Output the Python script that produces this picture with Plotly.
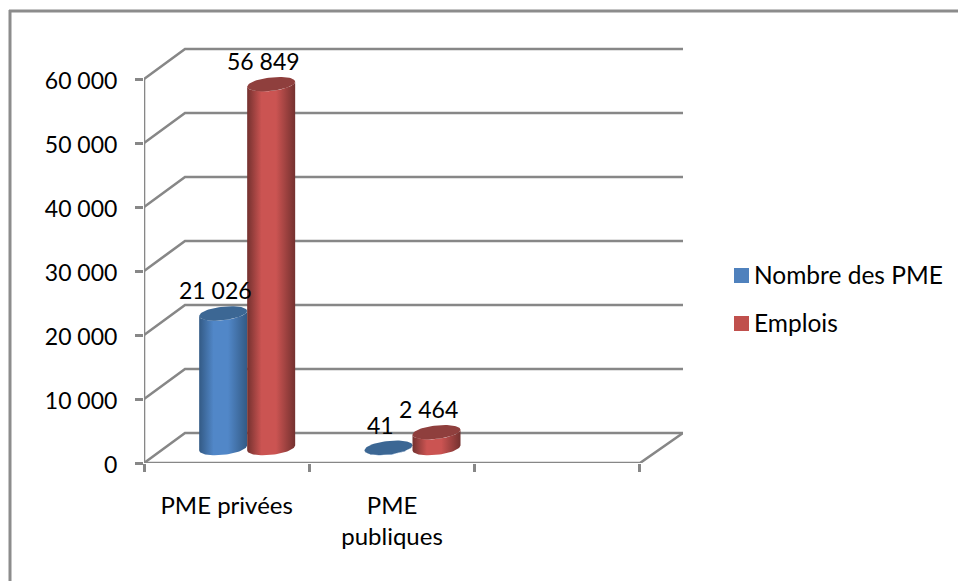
import numpy as np
import plotly.graph_objects as go

# Chart data
categories = ["PME privées", "PME<br>publiques"]
series_names = ["Nombre des PME", "Emplois"]
nombre_pme = [21026, 41]
emplois = [56849, 2464]
value_labels = [["21 026", "41"], ["56 849", "2 464"]]
y_ticks = [0, 10000, 20000, 30000, 40000, 50000, 60000]
y_tick_labels = ["0", "10 000", "20 000", "30 000", "40 000", "50 000", "60 000"]

# Pseudo-3D geometry, in axis units
PX_X = 165.33          # pixels per category
PX_Y = 0.0064          # pixels per unit of value
DEPTH_X = 41 / PX_X
DEPTH_Y = 30 / PX_Y
X_MAX = 539 / PX_X
Y_MAX = 416 / PX_Y
RADIUS_X = 24 / PX_X
RADIUS_Y = 6.8 / PX_Y
TILT = 2.5 / PX_Y      # caps lean up to the right

GRID = "#878787"
FONT = "Lato, 'Open Sans', sans-serif"
TEXT = "#000000"

styles = [
    dict(edge="#335a85", mid="#5187c8", cap="#3c6794", swatch="#4f81bd"),
    dict(edge="#74312f", mid="#cb5452", cap="#8f3f3d", swatch="#c0504d"),
]

fig = go.Figure()


def polyline(xs, ys, width=2.6):
    fig.add_trace(go.Scatter(x=xs, y=ys, mode="lines", showlegend=False, hoverinfo="skip",
                             line=dict(color=GRID, width=width)))


# Walls and floor
for g in y_ticks:
    polyline([0, DEPTH_X, X_MAX], [g, g + DEPTH_Y, g + DEPTH_Y])
polyline([X_MAX, 3, 0], [DEPTH_Y, 0, 0])
polyline([0, 0], [0, y_ticks[-1]])


def ellipse(cx, cy, t):
    return cx + RADIUS_X * np.cos(t), cy + RADIUS_Y * np.sin(t) + TILT * np.cos(t)


def cylinder(cx, value, style):
    base = DEPTH_Y / 2
    top = base + value
    t_low = np.linspace(np.pi, 2 * np.pi, 40)
    t_up = np.linspace(0, 2 * np.pi, 80)
    bx, by = ellipse(cx, base, t_low)
    tx, ty = ellipse(cx, top, t_low[::-1])
    fig.add_trace(go.Scatter(
        x=np.r_[bx, tx, bx[0]], y=np.r_[by, ty, by[0]],
        mode="lines", line=dict(width=0), fill="toself", showlegend=False, hoverinfo="skip",
        fillgradient=dict(type="horizontal", colorscale=[
            [0, style["edge"]], [0.3, style["mid"]], [0.6, style["mid"]], [1, style["edge"]]]),
    ))
    cap_x, cap_y = ellipse(cx, top, t_up)
    fig.add_trace(go.Scatter(x=cap_x, y=cap_y, mode="lines", line=dict(width=0),
                             fill="toself", fillcolor=style["cap"],
                             showlegend=False, hoverinfo="skip"))


annotations = []
for s, values in enumerate([nombre_pme, emplois]):
    for c, v in enumerate(values):
        cx = c + 0.5 + DEPTH_X / 2 + (s - 0.5) * 2 * RADIUS_X
        cylinder(cx, v, styles[s])
        annotations.append(dict(
            x=cx, y=DEPTH_Y / 2 + v, xref="x", yref="y", text=value_labels[s][c],
            showarrow=False, xshift=-8, yshift=23,
            font=dict(family=FONT, size=23, color=TEXT)))

W, H = 958, 581
L, T, PW, PH = 144, 47, 539, 416


def px_x(px):
    return (px - L) / PW


def px_y(px):
    return 1 - (px - T) / PH


# Outer frame: only the left and top edges fall inside the page
shapes = [
    dict(type="line", xref="paper", yref="paper", x0=px_x(10), x1=px_x(10), y0=px_y(10), y1=px_y(581),
         line=dict(color="#8c8c8c", width=3)),
    dict(type="line", xref="paper", yref="paper", x0=px_x(9), x1=px_x(958), y0=px_y(11), y1=px_y(11),
         line=dict(color="#8c8c8c", width=3)),
]
# Legend entries to the right of the plot
for i, name in enumerate(series_names):
    yc = 275.5 + i * 48
    shapes.append(dict(type="rect", xref="paper", yref="paper", line_width=0,
                       x0=px_x(734), x1=px_x(749), y0=px_y(yc - 7.5), y1=px_y(yc + 7.5),
                       fillcolor=styles[i]["swatch"]))
    annotations.append(dict(x=px_x(752), y=px_y(yc - 1.5), xref="paper", yref="paper", text=name,
                            xanchor="left", yanchor="middle", showarrow=False,
                            font=dict(family=FONT, size=24.5, color=TEXT)))

fig.update_layout(
    width=W, height=H, autosize=False,
    margin=dict(l=L, t=T, r=W - L - PW, b=H - T - PH, pad=0),
    paper_bgcolor="white", plot_bgcolor="white", showlegend=False,
    font=dict(family=FONT, size=23, color=TEXT),
    shapes=shapes, annotations=annotations,
    xaxis=dict(range=[0, X_MAX], showgrid=False, zeroline=False, showline=False,
               tickmode="array", tickvals=[0.5, 1.5], ticktext=categories, ticks="",
               tickfont=dict(size=24), ticklabelstandoff=26,
               minor=dict(tickmode="array", tickvals=[0, 1, 2, 3], ticks="outside",
                          ticklen=8, tickwidth=2.5, tickcolor=GRID, showgrid=False)),
    yaxis=dict(range=[0, Y_MAX], showgrid=False, zeroline=False, showline=False,
               tickmode="array", tickvals=y_ticks, ticktext=y_tick_labels, ticks="outside",
               ticklen=8, tickwidth=2.5, tickcolor=GRID, ticklabelstandoff=13,
               tickfont=dict(size=23), ticklabelshift=2),
)

fig.write_html("out.html", config=dict(displayModeBar=False))
